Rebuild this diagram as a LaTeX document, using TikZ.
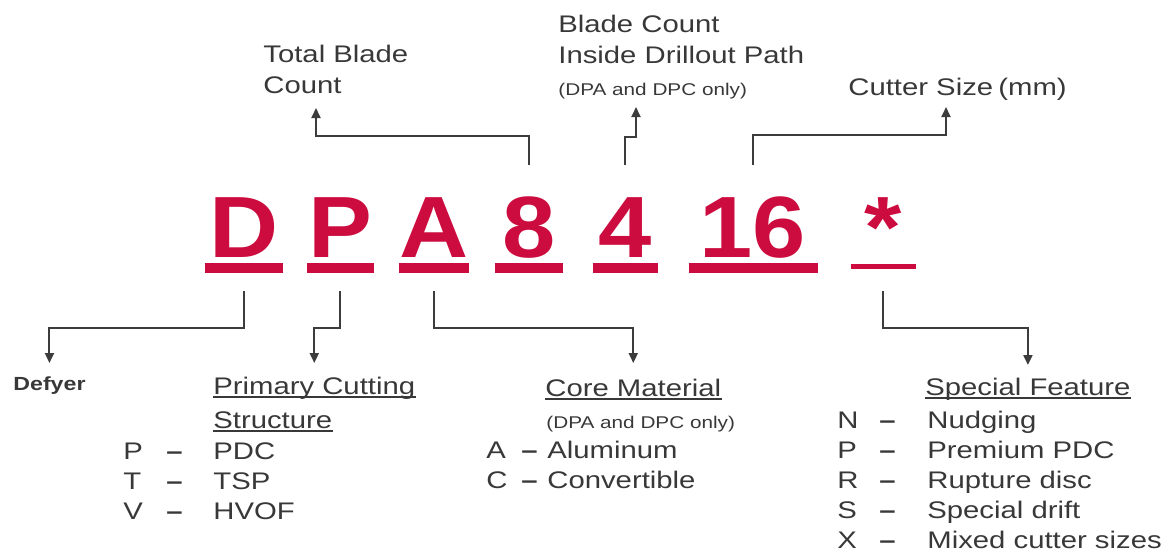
\documentclass[tikz,border=0pt]{standalone}
\usepackage{fontspec}
\setmainfont{Liberation Sans}[FakeStretch=1.22]
\newfontfamily\codefont{Liberation Sans}[FakeStretch=1.1]
\usepackage{xcolor}
\usetikzlibrary{arrows.meta,calc}
\definecolor{defred}{HTML}{CC0C3E}
\definecolor{txtgray}{HTML}{383838}
\definecolor{linegray}{HTML}{3C3C3C}

\begin{document}
\begin{tikzpicture}[x=0.5pt, y=-0.5pt,
  lbl/.style={inner sep=0pt, anchor=base west, text=txtgray, font=\fontsize{12}{14}\selectfont},
  note/.style={lbl, font=\fontsize{8.5}{10}\selectfont},
  optdash/.style={lbl, font=\bfseries\fontsize{12}{14}\selectfont},
  code/.style={inner sep=0pt, anchor=base, text=defred, font=\codefont\bfseries\fontsize{43.5}{50}\selectfont},
  conn/.style={draw=linegray, line width=1pt, -{Triangle[length=5pt,width=4.5pt]}},
  uline/.style={draw=txtgray, line width=0.7pt}]
\useasboundingbox (0,0) rectangle (1168,554);

% code characters and their bars
\foreach \nm/\txt/\cx/\w in {D/D/244/78, P/P/340/67, A/A/434/70, 8/8/529/68, 4/4/625/65, 16/16/753/129}{
  \node[code] (c\nm) at (\cx,257) {\txt};
  \fill[defred] (\cx-\w/2,263) rectangle (\cx+\w/2,273);
}
\node[code] (cstar) at (883,257) {*};
\fill[defred] (851,264) rectangle (916,269);

% upper labels
\node[lbl] (tot1) at (263,62) {Total Blade};
\node[lbl] (tot2) at (263,93) {Count};
\node[lbl] (ins1) at (558,32) {Blade Count};
\node[lbl] (ins2) at (558,63) {Inside Drillout Path};
\node[note] (ins3) at (558,95) {(DPA and DPC only)};
\node[lbl] (cut) at (848,95) {Cutter Size\hspace{-0.12em} (mm)};

\draw[conn] (c8 |- 0,165) |- ($(tot2.base west)+(53,43)$) -- ($(tot2.base west)+(53,15)$);
\draw[conn] (c4 |- 0,165) |- ($(ins3.base west)+(78,42)$) -- ($(ins3.base west)+(78,12)$);
\draw[conn] (c16 |- 0,165) |- ($(cut.base west)+(98,40)$) -- ($(cut.base west)+(98,12)$);

% lower labels
\node[lbl, font=\bfseries\fontsize{9.5}{11}\selectfont] (defyer) at (13,390) {Defyer};
\node[lbl] (prim1) at (213,394) {Primary Cutting};
\node[lbl] (prim2) at (213,428) {Structure};
\node[lbl] (core) at (545,396) {Core Material};
\node[note] (core2) at (546,428) {(DPA and DPC only)};
\node[lbl] (spec) at (925,395) {Special Feature};
\foreach \h in {prim1,prim2,core,spec}
  \draw[uline] ([yshift=-1.5pt]\h.base west) -- ([yshift=-1.5pt]\h.base east);

\draw[conn] (cD |- 0,291) |- (defyer |- 0,328) -- (defyer |- 0,363);
\draw[conn] (cP |- 0,291) |- (prim1 |- 0,328) -- (prim1 |- 0,363);
\draw[conn] (cA |- 0,291) |- (core |- 0,328) -- (core |- 0,363);
\draw[conn] (cstar |- 0,291) |- (spec |- 0,328) -- (spec |- 0,365);

% option lists
\foreach \k/\v [count=\i] in {P/PDC, T/TSP, V/HVOF}{
  \node[lbl] (pk\i) at (123,429+30*\i) {\k};
  \node[optdash] (pd\i) at (166,429+30*\i) {–};
  \node[lbl] (pv\i) at (213,429+30*\i) {\v};
}
\foreach \k/\v [count=\i] in {A/Aluminum, C/Convertible}{
  \node[lbl] (mk\i) at (486,428+30*\i) {\k};
  \node[optdash] (md\i) at (521,428+30*\i) {–};
  \node[lbl] (mv\i) at (547,428+30*\i) {\v};
}
\foreach \k/\v [count=\i] in {N/Nudging, P/Premium PDC, R/Rupture disc, S/Special drift, X/Mixed cutter sizes}{
  \node[lbl] (sk\i) at (837,398+30*\i) {\k};
  \node[optdash] (sd\i) at (879,398+30*\i) {–};
  \node[lbl] (sv\i) at (927,398+30*\i) {\v};
}
\end{tikzpicture}
\end{document}
